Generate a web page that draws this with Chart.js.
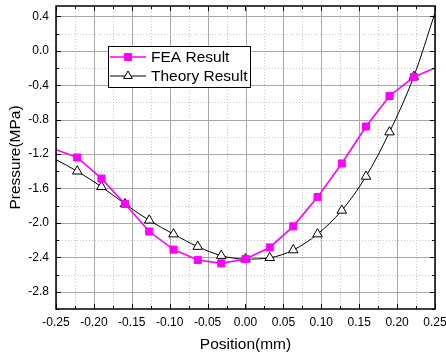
<!DOCTYPE html>
<html>
<head>
<meta charset="utf-8">
<script src="https://cdn.jsdelivr.net/npm/chart.js@4.4.1/dist/chart.umd.min.js"></script>
<style>
  body { margin: 0; background: #fff; }
  #wrap { width: 446px; height: 358px; }
</style>
</head>
<body>
<div id="wrap"><canvas id="pressureChart" width="446" height="358"></canvas></div>
<script>
const positions = [-0.25, -0.222, -0.190, -0.159, -0.127, -0.095, -0.063, -0.032, 0.0,
  0.032, 0.063, 0.095, 0.127, 0.159, 0.190, 0.222, 0.25];
const feaPressure = [-1.15, -1.24, -1.485, -1.78, -2.10, -2.31, -2.43, -2.47, -2.42,
  -2.285, -2.04, -1.70, -1.31, -0.88, -0.525, -0.305, -0.20];
const theoryPressure = [-1.265, -1.40, -1.58, -1.78, -1.97, -2.13, -2.275, -2.38, -2.42,
  -2.405, -2.315, -2.13, -1.855, -1.46, -0.945, -0.30, 0.44];
const xTicks = [-0.25, -0.20, -0.15, -0.10, -0.05, 0.0, 0.05, 0.10, 0.15, 0.20, 0.25];
const yTicks = [-2.8, -2.4, -2.0, -1.6, -1.2, -0.8, -0.4, 0.0, 0.4];
const seriesNames = ["FEA Result", "Theory Result"];

const FONT = "'Liberation Sans', Arial, sans-serif";

// hide markers on the end points (they sit at the frame edge)
const endRadius = (r) => positions.map((p, i) => (i === 0 || i === positions.length - 1 ? 0 : r));

const originFrame = {
  id: "originFrame",
  beforeDatasetsDraw(chart) {
    const { ctx, chartArea: a, scales } = chart;
    const xs = scales.x, ys = scales.y;
    ctx.save();
    ctx.lineWidth = 1;
    // minor dotted grid
    ctx.strokeStyle = "#c8c8c8";
    ctx.setLineDash([1, 2]);
    xTicks.slice(0, -1).forEach((v) => {
      const px = Math.round(xs.getPixelForValue(v + 0.025)) + 0.5;
      ctx.beginPath(); ctx.moveTo(px, a.top); ctx.lineTo(px, a.bottom); ctx.stroke();
    });
    [-3.0].concat(yTicks).forEach((v) => {
      const py = Math.round(ys.getPixelForValue(v + 0.2)) + 0.5;
      if (py < a.top) return;
      ctx.beginPath(); ctx.moveTo(a.left, py); ctx.lineTo(a.right, py); ctx.stroke();
    });
    // major solid grid
    ctx.setLineDash([]);
    ctx.strokeStyle = "#a8a8a8";
    xTicks.forEach((v) => {
      const px = Math.round(xs.getPixelForValue(v)) + 0.5;
      ctx.beginPath(); ctx.moveTo(px, a.top); ctx.lineTo(px, a.bottom); ctx.stroke();
    });
    yTicks.forEach((v) => {
      const py = Math.round(ys.getPixelForValue(v)) + 0.5;
      ctx.beginPath(); ctx.moveTo(a.left, py); ctx.lineTo(a.right, py); ctx.stroke();
    });
    ctx.restore();
  },
  afterDatasetsDraw(chart) {
    const { ctx, chartArea: a, scales } = chart;
    const xs = scales.x, ys = scales.y;
    ctx.save();
    ctx.strokeStyle = "#000";
    ctx.lineWidth = 1;
    // inward ticks on all four sides
    for (let v = -0.25; v <= 0.2501; v += 0.025) {
      const major = Math.abs(Math.round(v / 0.05) * 0.05 - v) < 1e-6;
      const len = major ? 5 : 3;
      const px = Math.round(xs.getPixelForValue(v)) + 0.5;
      ctx.beginPath();
      ctx.moveTo(px, a.bottom); ctx.lineTo(px, a.bottom - len);
      ctx.moveTo(px, a.top); ctx.lineTo(px, a.top + len);
      ctx.stroke();
    }
    for (let v = -3.0; v <= 0.5; v += 0.2) {
      const major = Math.abs(Math.round(v / 0.4) * 0.4 - v) < 1e-6;
      const len = major ? 5 : 3;
      const py = Math.round(ys.getPixelForValue(v)) + 0.5;
      ctx.beginPath();
      ctx.moveTo(a.left, py); ctx.lineTo(a.left + len, py);
      ctx.moveTo(a.right, py); ctx.lineTo(a.right - len, py);
      ctx.stroke();
    }
    // frame
    ctx.lineWidth = 1.5;
    ctx.strokeRect(a.left, a.top, a.right - a.left, a.bottom - a.top);

    // legend box
    const bx = 108.5, by = 46.5, bw = 142, bh = 41;
    ctx.fillStyle = "#fff";
    ctx.fillRect(bx, by, bw, bh);
    ctx.lineWidth = 1;
    ctx.strokeRect(bx, by, bw, bh);
    const rows = [57, 76];
    chart.data.datasets.forEach((ds, i) => {
      const y = rows[i];
      ctx.strokeStyle = ds.borderColor;
      ctx.lineWidth = ds.borderWidth;
      ctx.beginPath(); ctx.moveTo(110, y); ctx.lineTo(146, y); ctx.stroke();
      ctx.fillStyle = ds.pointBackgroundColor;
      ctx.strokeStyle = ds.pointBorderColor;
      ctx.lineWidth = 1;
      Chart.helpers.drawPoint(ctx, {
        pointStyle: ds.pointStyle, radius: ds.legendRadius, borderWidth: 1, rotation: 0
      }, 128, y);
      ctx.fillStyle = "#000";
      ctx.font = "15.5px " + FONT;
      ctx.textBaseline = "middle";
      ctx.fillText(seriesNames[i], 151, y + 1);
    });
    ctx.restore();
  }
};

const ctx = document.getElementById("pressureChart").getContext("2d");
new Chart(ctx, {
  type: "line",
  data: {
    datasets: [
      {
        label: seriesNames[0],
        data: positions.map((p, i) => ({ x: p, y: feaPressure[i] })),
        borderColor: "#ff00ff",
        backgroundColor: "#ff00ff",
        borderWidth: 1.6,
        pointStyle: "rect",
        pointRadius: endRadius(5),
        pointBackgroundColor: "#ff00ff",
        pointBorderColor: "#ff00ff",
        pointBorderWidth: 1,
        legendRadius: 5,
        tension: 0,
      },
      {
        label: seriesNames[1],
        data: positions.map((p, i) => ({ x: p, y: theoryPressure[i] })),
        borderColor: "#000000",
        backgroundColor: "#ffffff",
        borderWidth: 1,
        pointStyle: "triangle",
        pointRadius: endRadius(5.5),
        pointBackgroundColor: "#ffffff",
        pointBorderColor: "#000000",
        pointBorderWidth: 1,
        legendRadius: 5,
        cubicInterpolationMode: "monotone",
      },
    ],
  },
  options: {
    responsive: false,
    animation: false,
    layout: { padding: { top: 6, right: 11, left: 0, bottom: 0 } },
    plugins: { legend: { display: false }, tooltip: { enabled: false } },
    scales: {
      x: {
        type: "linear",
        min: -0.25,
        max: 0.25,
        afterBuildTicks: (s) => { s.ticks = xTicks.map((v) => ({ value: v })); },
        afterFit: (s) => { s.height = 49; s.paddingLeft = 0; s.paddingRight = 0; },
        grid: { display: false, drawTicks: false },
        border: { display: false },
        ticks: {
          padding: 6,
          color: "#000",
          font: { family: FONT, size: 12 },
          maxRotation: 0,
          autoSkip: false,
          callback: (v) => Number(v).toFixed(2),
        },
        title: {
          display: true,
          text: "Position(mm)",
          color: "#000",
          font: { family: FONT, size: 15.5 },
          padding: { top: 0, bottom: 4 },
        },
      },
      y: {
        type: "linear",
        min: -3.0,
        max: 0.52,
        afterBuildTicks: (s) => { s.ticks = yTicks.map((v) => ({ value: v })); },
        afterFit: (s) => { s.width = 56; s.paddingTop = 0; s.paddingBottom = 0; },
        grid: { display: false, drawTicks: false },
        border: { display: false },
        ticks: {
          padding: 7,
          color: "#000",
          font: { family: FONT, size: 12 },
          autoSkip: false,
          callback: (v) => Number(v).toFixed(1),
        },
        title: {
          display: true,
          text: "Pressure(MPa)",
          color: "#000",
          font: { family: FONT, size: 15.5 },
          padding: { top: 6, bottom: 0 },
        },
      },
    },
  },
  plugins: [originFrame],
});
</script>
</body>
</html>
